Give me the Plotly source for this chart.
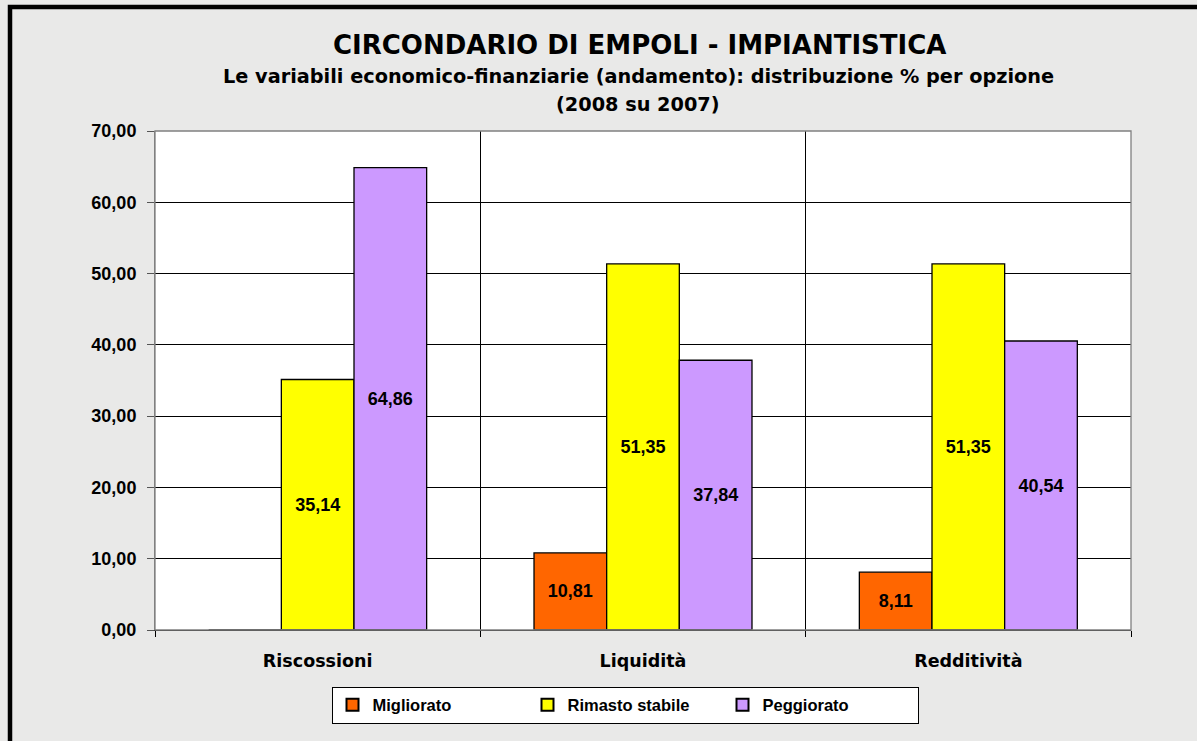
import plotly.graph_objects as go

categories = ["Riscossioni", "Liquidità", "Redditività"]
migliorato = [0.0, 10.81, 8.11]
rimasto_stabile = [35.14, 51.35, 51.35]
peggiorato = [64.86, 37.84, 40.54]
series_names = ["Migliorato", "Rimasto stabile", "Peggiorato"]
series_colors = ["#FF6600", "#FFFF00", "#CC99FF"]
y_ticks = [0, 10, 20, 30, 40, 50, 60, 70]

FONT = "DejaVu Sans, Liberation Sans, Arial, sans-serif"
FONT2 = "Liberation Sans, Arial, sans-serif"

def labels(vals):
    return [("%.2f" % v).replace(".", ",") if v else "" for v in vals]

fig = go.Figure()
for name, vals, col in zip(series_names, [migliorato, rimasto_stabile, peggiorato], series_colors):
    fig.add_trace(go.Bar(
        name=name, x=categories, y=vals, marker=dict(color=col, line=dict(color="black", width=1.3)),
        text=labels(vals), textposition="inside", insidetextanchor="middle", textangle=0,
        constraintext="none",
        textfont=dict(family=FONT2, size=18, color="black", weight="bold"),
        hoverinfo="skip",
    ))

L, R, T, B = 155, 66, 131, 111
W, H = 1197, 741
pw, ph = W - L - R, H - T - B

def px_x(p):
    return (p - L) / pw

def px_y(p):
    return (H - B - p) / ph

fig.update_layout(
    width=W, height=H,
    margin=dict(l=L, r=R, t=T, b=B, pad=0),
    paper_bgcolor="#e9e9e8",
    plot_bgcolor="white",
    barmode="group", bargap=0.33, bargroupgap=0,
    separators=",.",
    font=dict(family=FONT, color="black"),
    showlegend=True,
    legend=dict(
        orientation="h", x=px_x(625), xanchor="center", y=px_y(705), yanchor="middle",
        bgcolor="white", bordercolor="black", borderwidth=1,
        font=dict(family=FONT2, size=16.5, color="black", weight="bold"),
        entrywidth=150, traceorder="normal", itemsizing="constant",
    ),
    xaxis=dict(
        type="category", tickson="boundaries", showgrid=True, gridcolor="black", gridwidth=1,
        ticks="outside", ticklen=6, tickcolor="black", showline=True, linecolor="black", linewidth=1.3,
        tickfont=dict(family=FONT, size=17.5, color="black", weight="bold"), zeroline=False,
        ticklabelstandoff=15,
    ),
    yaxis=dict(
        range=[0, 70], tickvals=y_ticks, tickformat=".2f", showgrid=True, gridcolor="black", gridwidth=1,
        ticks="outside", ticklen=7, tickcolor="#555555", showline=True, linecolor="#808080", linewidth=1,
        tickfont=dict(family=FONT2, size=18, color="black", weight="bold"), zeroline=False,
        ticklabelstandoff=7,
    ),
    annotations=[
        dict(text="<b>CIRCONDARIO DI EMPOLI - IMPIANTISTICA</b>", xref="paper", yref="paper",
             x=px_x(639), y=px_y(45), xanchor="center", yanchor="middle", showarrow=False,
             font=dict(family=FONT, size=26, color="black")),
        dict(text="<b>Le variabili economico-finanziarie (andamento): distribuzione % per opzione</b>",
             xref="paper", yref="paper", x=px_x(638), y=px_y(76), xanchor="center", yanchor="middle",
             showarrow=False, font=dict(family=FONT, size=19.3, color="black")),
        dict(text="<b>(2008 su 2007)</b>", xref="paper", yref="paper", x=px_x(638), y=px_y(104),
             xanchor="center", yanchor="middle", showarrow=False, font=dict(family=FONT, size=19.3, color="black")),
    ],
    shapes=[
        dict(type="rect", xref="paper", yref="paper", x0=0, x1=1, y0=0, y1=1,
             line=dict(color="#808080", width=1.3), layer="above"),
        dict(type="rect", xref="paper", yref="paper", x0=px_x(10), x1=px_x(1230), y0=px_y(7), y1=px_y(780),
             line=dict(color="black", width=4.5), layer="above"),
    ],
)

fig.write_html("out.html", config={"displayModeBar": False},
               post_script="document.body.style.margin='0';")
